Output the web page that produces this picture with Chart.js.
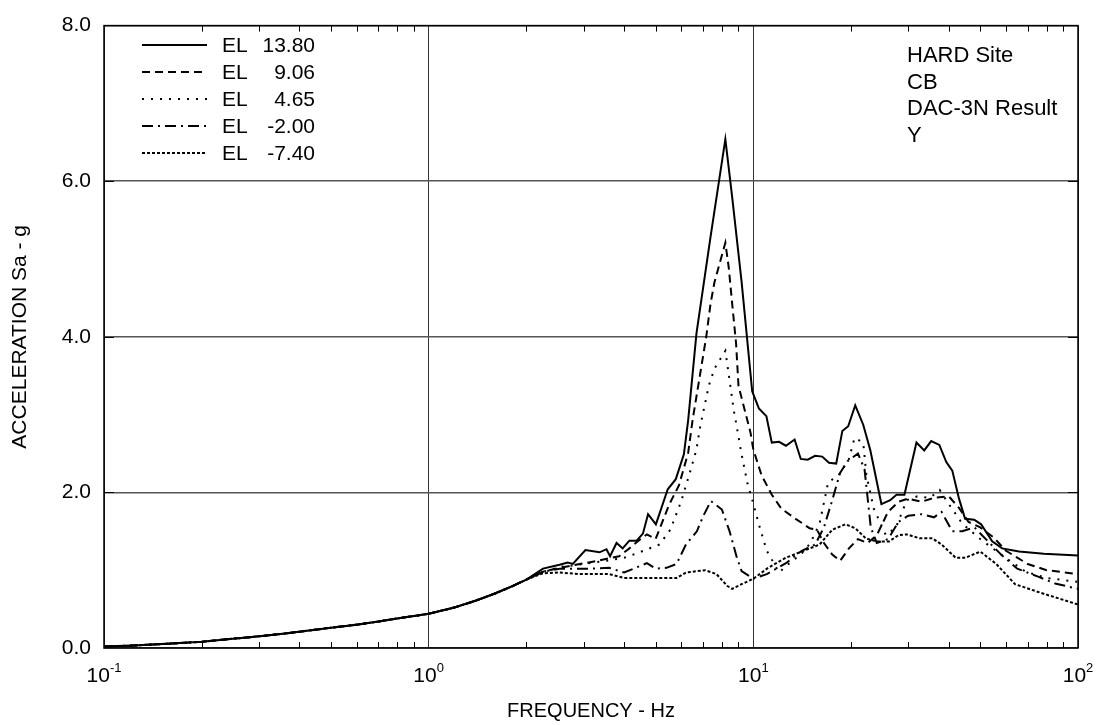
<!DOCTYPE html>
<html>
<head>
<meta charset="utf-8">
<script src="https://cdn.jsdelivr.net/npm/chart.js@4.4.1/dist/chart.umd.min.js"></script>
<style>
  html, body { margin: 0; padding: 0; background: #fff; }
  canvas { display: block; }
</style>
</head>
<body>
<canvas id="chart" width="1101" height="725"></canvas>
<script>
// 応答スペクトル（Sa - g）5つの標高ごと

// 低い周波数側は5本ともほぼ重なっているので共通にする
const lowFreq = [0.1, 0.12, 0.15, 0.2, 0.25, 0.3, 0.35, 0.4, 0.5, 0.6, 0.7, 0.8, 0.9, 1.0, 1.2, 1.4, 1.6, 1.8, 2.0];
const lowAcc  = [0.02, 0.03, 0.05, 0.08, 0.12, 0.15, 0.18, 0.21, 0.26, 0.30, 0.34, 0.38, 0.41, 0.44, 0.52, 0.61, 0.70, 0.79, 0.88];

// EL 13.80（実線）
const freq1380 = [2.25, 2.53, 2.68, 2.78, 3.04, 3.36, 3.53, 3.62, 3.79, 3.96, 4.15, 4.37, 4.57, 4.74, 5.01, 5.45, 5.77, 6.11, 6.3, 6.68, 7.38, 8.2, 8.61, 9.2, 9.92, 10.4, 10.97, 11.4, 12.0, 12.6, 13.4, 14.0, 14.7, 15.5, 16.3, 17.1, 18.0, 18.8, 19.6, 20.6, 21.8, 22.9, 24.8, 26.4, 27.6, 29.2, 31.8, 33.6, 35.3, 37.4, 39.3, 41.0, 43.0, 44.9, 47.9, 50.3, 54.4, 58.4, 65.8, 78.5, 100];
const acc1380  = [1.02, 1.07, 1.10, 1.08, 1.26, 1.23, 1.27, 1.18, 1.35, 1.28, 1.38, 1.38, 1.47, 1.72, 1.59, 2.04, 2.17, 2.49, 2.93, 4.04, 5.28, 6.54, 5.79, 4.71, 3.30, 3.08, 2.98, 2.64, 2.65, 2.60, 2.68, 2.43, 2.42, 2.47, 2.46, 2.38, 2.37, 2.79, 2.85, 3.12, 2.87, 2.55, 1.85, 1.90, 1.97, 1.97, 2.64, 2.54, 2.66, 2.61, 2.39, 2.28, 1.92, 1.66, 1.65, 1.59, 1.37, 1.28, 1.24, 1.21, 1.19];

// EL 9.06（破線）
const freq906 = [2.25, 2.53, 3.3, 3.86, 4.15, 4.4, 4.7, 5.0, 5.5, 5.9, 6.3, 6.5, 6.9, 7.16, 7.38, 7.59, 8.2, 8.4, 8.61, 8.85, 9.0, 9.8, 10.0, 10.6, 11.4, 12.2, 13.5, 14.9, 15.7, 16.5, 17.5, 18.5, 19.7, 21, 22.5, 24, 26, 28, 30, 33, 36, 40, 43, 46, 50, 55, 60, 70, 80, 100];
const acc906  = [0.98, 1.03, 1.12, 1.18, 1.28, 1.37, 1.46, 1.40, 1.84, 2.09, 2.51, 2.93, 3.59, 4.00, 4.42, 4.70, 5.21, 4.89, 4.42, 3.91, 3.37, 2.77, 2.55, 2.22, 1.97, 1.79, 1.66, 1.54, 1.52, 1.35, 1.20, 1.12, 1.28, 1.40, 1.35, 1.45, 1.75, 1.88, 1.92, 1.88, 1.93, 1.95, 1.80, 1.62, 1.55, 1.42, 1.25, 1.08, 1.00, 0.95];

// EL 4.65（点線）
const freq465 = [2.25, 2.53, 3.0, 3.5, 4.0, 4.4, 5.14, 5.55, 6.0, 6.4, 6.68, 6.85, 7.0, 7.3, 7.59, 8.2, 8.45, 8.7, 8.87, 9.2, 9.6, 9.9, 10.4, 11.0, 12.0, 13.0, 14.0, 15.0, 16.0, 17.0, 18.3, 19.7, 20.5, 21.8, 22.3, 23.5, 25.6, 27.5, 29.7, 32, 35, 37.5, 40, 44, 50, 58, 69, 80, 100];
const acc465  = [0.98, 1.04, 1.08, 1.12, 1.16, 1.22, 1.33, 1.52, 1.89, 2.28, 2.55, 2.83, 3.02, 3.38, 3.59, 3.82, 3.44, 3.06, 2.87, 2.49, 2.11, 1.92, 1.59, 1.25, 0.97, 1.10, 1.20, 1.35, 1.60, 2.13, 2.22, 2.43, 2.70, 2.64, 2.22, 1.79, 1.45, 1.55, 1.90, 1.95, 1.93, 2.03, 1.85, 1.60, 1.40, 1.20, 0.98, 0.90, 0.85];

// EL -2.00（一点鎖線）
const freqM200 = [2.25, 2.53, 3.13, 3.6, 4.0, 4.7, 5.0, 5.4, 5.8, 6.2, 6.7, 7.0, 7.4, 8.0, 8.45, 8.9, 9.2, 10.0, 11.0, 12.6, 14.1, 15.5, 16.5, 17.5, 18.5, 19.5, 21, 22, 23, 24, 26, 28, 30, 33, 36, 38, 41, 44, 48, 52, 58, 65, 75, 85, 100];
const accM200  = [0.98, 1.02, 1.02, 1.03, 0.97, 1.09, 1.02, 1.03, 1.08, 1.33, 1.50, 1.69, 1.89, 1.78, 1.50, 1.16, 0.99, 0.89, 0.95, 1.09, 1.25, 1.33, 1.55, 1.90, 2.25, 2.40, 2.50, 2.30, 1.55, 1.35, 1.40, 1.62, 1.70, 1.72, 1.68, 1.75, 1.50, 1.50, 1.55, 1.40, 1.20, 1.02, 0.92, 0.83, 0.76];

// EL -7.40（細かい点線）
const freqM740 = [2.25, 2.53, 2.9, 3.6, 4.0, 5.0, 5.8, 6.2, 7.1, 7.7, 8.3, 8.6, 9.2, 10.0, 11.1, 12.6, 14.1, 16.0, 17.5, 19.2, 20.6, 22.2, 23.9, 26.2, 28, 29.7, 32.5, 35.6, 38, 42, 45, 50, 56, 64, 78, 100];
const accM740  = [0.96, 0.97, 0.95, 0.95, 0.90, 0.90, 0.90, 0.97, 1.00, 0.95, 0.80, 0.76, 0.82, 0.89, 1.03, 1.16, 1.24, 1.33, 1.52, 1.59, 1.54, 1.41, 1.37, 1.37, 1.45, 1.46, 1.41, 1.41, 1.33, 1.16, 1.16, 1.24, 1.08, 0.82, 0.70, 0.56];

// 凡例・軸の文字
const seriesNames = ["13.80", "9.06", "4.65", "-2.00", "-7.40"];
const xDecades = [0.1, 1, 10, 100];
const xDecadeExps = ["-1", "0", "1", "2"];
const noteLines = ["HARD Site", "CB", "DAC-3N Result", "Y"];

const FONT = 'Arial, "Liberation Sans", sans-serif';

// 低域と高域をつないで {x, y} の点列にする
function toPoints(freq, acc) {
  const xs = lowFreq.concat(freq);
  const ys = lowAcc.concat(acc);
  return xs.map((f, i) => ({ x: f, y: ys[i] }));
}

function lineSet(label, freq, acc, dash) {
  return {
    label: label,
    data: toPoints(freq, acc),
    borderColor: "#000",
    borderWidth: 2,
    borderDash: dash,
    pointRadius: 0,
    tension: 0,
    fill: false,
  };
}

const datasets = [
  lineSet(seriesNames[0], freq1380, acc1380, []),
  lineSet(seriesNames[1], freq906, acc906, [8, 5]),
  lineSet(seriesNames[2], freq465, acc465, [2, 7]),
  lineSet(seriesNames[3], freqM200, accM200, [11, 5, 2, 5]),
  lineSet(seriesNames[4], freqM740, accM740, [3, 2]),
];

// 枠・補助目盛・文字をまとめて描くプラグイン
const decorations = {
  id: "decorations",
  afterDatasetsDraw(chart) {
    const ctx = chart.ctx;
    const a = chart.chartArea;
    const xs = chart.scales.x;
    const ys = chart.scales.y;
    ctx.save();

    // 補助目盛（上下の辺から内側へ）
    ctx.strokeStyle = "#000";
    ctx.lineWidth = 1;
    for (let d of [0.1, 1, 10]) {
      for (let m = 2; m <= 9; m++) {
        const px = Math.round(xs.getPixelForValue(m * d)) + 0.5;
        ctx.beginPath();
        ctx.moveTo(px, a.bottom);
        ctx.lineTo(px, a.bottom - 6);
        ctx.moveTo(px, a.top);
        ctx.lineTo(px, a.top + 6);
        ctx.stroke();
      }
    }
    // y の主目盛（左右の辺）
    for (let v of [2, 4, 6]) {
      const py = Math.round(ys.getPixelForValue(v)) + 0.5;
      ctx.beginPath();
      ctx.moveTo(a.left, py);
      ctx.lineTo(a.left + 10, py);
      ctx.moveTo(a.right, py);
      ctx.lineTo(a.right - 10, py);
      ctx.stroke();
    }

    // 外枠
    ctx.lineWidth = 1.5;
    ctx.strokeRect(a.left, a.top, a.right - a.left, a.bottom - a.top);

    // x 軸の 10^n ラベル
    ctx.fillStyle = "#000";
    ctx.textBaseline = "alphabetic";
    ctx.textAlign = "left";
    xDecades.forEach((v, i) => {
      const px = xs.getPixelForValue(v);
      ctx.font = "21px " + FONT;
      const w1 = ctx.measureText("10").width;
      ctx.font = "13px " + FONT;
      const w2 = ctx.measureText(xDecadeExps[i]).width;
      const x0 = px - (w1 + w2) / 2;
      ctx.font = "21px " + FONT;
      ctx.fillText("10", x0, a.bottom + 34);
      ctx.font = "13px " + FONT;
      ctx.fillText(xDecadeExps[i], x0 + w1, a.bottom + 24);
    });

    // 軸タイトル
    ctx.textAlign = "center";
    ctx.textBaseline = "middle";
    ctx.font = "20px " + FONT;
    ctx.fillText("FREQUENCY - Hz", (a.left + a.right) / 2, 711);
    ctx.save();
    ctx.font = "21px " + FONT;
    ctx.translate(20, (a.top + a.bottom) / 2);
    ctx.rotate(-Math.PI / 2);
    ctx.fillText("ACCELERATION Sa - g", 0, 0);
    ctx.restore();

    // 凡例（左上）
    ctx.font = "21px " + FONT;
    chart.data.datasets.forEach((ds, i) => {
      const y = 45 + i * 27;
      ctx.lineWidth = 2;
      ctx.setLineDash(ds.borderDash);
      ctx.beginPath();
      ctx.moveTo(142, y);
      ctx.lineTo(207, y);
      ctx.stroke();
      ctx.setLineDash([]);
      ctx.textAlign = "left";
      ctx.fillText("EL", 222, y + 1);
      ctx.textAlign = "right";
      ctx.fillText(seriesNames[i], 315, y + 1);
    });

    // 右上の注記
    ctx.font = "22px " + FONT;
    ctx.textAlign = "left";
    noteLines.forEach((t, i) => {
      ctx.fillText(t, 907, 56 + i * 26.5);
    });

    ctx.restore();
  },
};

new Chart(document.getElementById("chart"), {
  type: "line",
  data: { datasets: datasets },
  options: {
    responsive: false,
    animation: false,
    devicePixelRatio: 1,
    layout: { padding: { top: 18, right: 23, left: 0, bottom: 0 } },
    plugins: { legend: { display: false }, tooltip: { enabled: false } },
    scales: {
      x: {
        type: "logarithmic",
        min: 0.1,
        max: 100,
        afterBuildTicks: (s) => { s.ticks = xDecades.map((v) => ({ value: v })); },
        afterFit: (s) => { s.height = 77; },
        ticks: { display: false },
        grid: { color: "#333", lineWidth: 1, drawTicks: false },
        border: { display: false },
      },
      y: {
        min: 0,
        max: 8,
        afterFit: (s) => { s.width = 104; },
        ticks: {
          stepSize: 2,
          padding: 13,
          color: "#000",
          font: { family: FONT, size: 21 },
          callback: (v) => v.toFixed(1),
        },
        grid: { color: "#555", lineWidth: 1.5, drawTicks: false },
        border: { display: false },
      },
    },
  },
  plugins: [decorations],
});
</script>
</body>
</html>
